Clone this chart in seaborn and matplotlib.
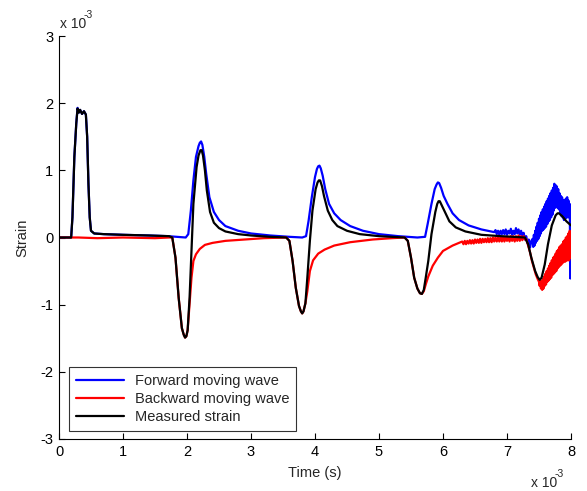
import pandas as pd
import matplotlib.pyplot as plt
import seaborn as sns

sns.set_style("ticks")
plt.rcParams["font.family"] = ["Liberation Sans", "DejaVu Sans"]
plt.rcParams["xtick.direction"] = "in"
plt.rcParams["ytick.direction"] = "in"
plt.rcParams["axes.unicode_minus"] = False

# ---------------------------------------------------------
# Data (time in ms, strain in units of 1e-3)
# ---------------------------------------------------------
fwd_t = [0.0, 0.19, 0.21, 0.24, 0.27, 0.29, 0.31, 0.33, 0.36, 0.39, 0.42, 0.44, 0.46, 0.48, 0.50,
         0.55, 0.7, 1.0, 1.4, 1.7, 1.85, 1.98,
         2.02, 2.06, 2.10, 2.14, 2.18, 2.20, 2.22, 2.24, 2.27, 2.30, 2.35, 2.42, 2.50, 2.60, 2.80, 3.0,
         3.3, 3.6, 3.8,
         3.86, 3.90, 3.95, 4.00, 4.03, 4.05, 4.07, 4.09, 4.12, 4.16, 4.22, 4.30, 4.40, 4.55, 4.75, 5.0,
         5.3, 5.6,
         5.72, 5.76, 5.82, 5.87, 5.90, 5.92, 5.94, 5.97, 6.01, 6.07, 6.15, 6.25, 6.40, 6.60,
         6.80, 6.82, 6.84, 6.86, 6.88, 6.90, 6.92, 6.94, 6.96, 6.98, 7.00, 7.02, 7.04, 7.06, 7.08,
         7.10, 7.12, 7.14, 7.16, 7.18, 7.20, 7.22, 7.24, 7.26, 7.28, 7.30, 7.32, 7.34, 7.36, 7.38,
         7.40, 7.41, 7.42, 7.43, 7.44, 7.45, 7.46, 7.47, 7.48, 7.49, 7.50, 7.51, 7.52, 7.53, 7.54,
         7.55, 7.56, 7.57, 7.58, 7.59, 7.60, 7.61, 7.62, 7.63, 7.64, 7.65, 7.66, 7.67, 7.68, 7.69,
         7.70, 7.71, 7.72, 7.73, 7.74, 7.75, 7.76, 7.77, 7.78, 7.79, 7.80, 7.81, 7.82, 7.83, 7.84,
         7.85, 7.86, 7.87, 7.88, 7.89, 7.90, 7.91, 7.92, 7.93, 7.94, 7.95, 7.96, 7.97, 7.98, 7.99,
         8.0]
fwd_v = [0.0, 0.0, 0.3, 1.2, 1.7, 1.93, 1.86, 1.9, 1.84, 1.88, 1.83, 1.5, 0.8, 0.3, 0.1,
         0.06, 0.05, 0.04, 0.03, 0.02, 0.01, 0.0,
         0.05, 0.4, 0.85, 1.2, 1.36, 1.41, 1.43, 1.38, 1.2, 0.95, 0.6, 0.38, 0.26, 0.17, 0.1, 0.06,
         0.03, 0.01, 0.0,
         0.02, 0.25, 0.6, 0.9, 1.02, 1.06, 1.07, 1.03, 0.92, 0.72, 0.5, 0.36, 0.26, 0.17, 0.1, 0.05,
         0.02, 0.0,
         0.01, 0.2, 0.5, 0.72, 0.79, 0.82, 0.81, 0.74, 0.62, 0.5, 0.36, 0.26, 0.18, 0.12,
         0.08, 0.11, 0.05, 0.1, 0.04, 0.1, 0.05, 0.11, 0.05, 0.12, 0.04, 0.1, 0.06, 0.13, 0.04,
         0.1, 0.05, 0.14, 0.06, 0.12, 0.04, 0.1, 0.02, 0.07, -0.03, 0.02, -0.08, -0.03, -0.15, -0.05,
         -0.02, -0.14, 0.04, -0.12, 0.1, -0.08, 0.16, -0.05, 0.22, -0.02, 0.28, 0.02, 0.33, 0.06, 0.38,
         0.1, 0.42, 0.12, 0.46, 0.14, 0.5, 0.16, 0.54, 0.2, 0.58, 0.24, 0.62, 0.26, 0.66, 0.3,
         0.7, 0.34, 0.74, 0.4, 0.8, 0.44, 0.78, 0.46, 0.76, 0.44, 0.72, 0.42, 0.66, 0.36, 0.62,
         0.32, 0.6, 0.3, 0.56, 0.26, 0.55, 0.28, 0.58, 0.3, 0.6, 0.3, 0.55, 0.3, 0.5, -0.61,
         0.4]

bwd_t = [0.0, 0.3, 0.6, 1.0, 1.5, 1.72,
         1.77, 1.82, 1.87, 1.92, 1.95, 1.97, 1.99, 2.01, 2.04, 2.07, 2.10, 2.14, 2.20, 2.28, 2.40, 2.60,
         2.90, 3.2, 3.55,
         3.60, 3.65, 3.70, 3.75, 3.78, 3.80, 3.82, 3.85, 3.88, 3.92, 3.97, 4.05, 4.15, 4.30, 4.55, 4.90,
         5.2, 5.4,
         5.45, 5.50, 5.55, 5.60, 5.64, 5.67, 5.70, 5.73, 5.77, 5.84, 5.92, 6.00, 6.15,
         6.30, 6.32, 6.34, 6.36, 6.38, 6.40, 6.42, 6.44, 6.46, 6.48, 6.50, 6.52, 6.54, 6.56, 6.58,
         6.60, 6.62, 6.64, 6.66, 6.68, 6.70, 6.72, 6.74, 6.76, 6.78, 6.80, 6.82, 6.84, 6.86, 6.88,
         6.90, 6.92, 6.94, 6.96, 6.98, 7.00, 7.02, 7.04, 7.06, 7.08, 7.10, 7.12, 7.14, 7.16, 7.18,
         7.20, 7.22, 7.24, 7.26, 7.28,
         7.30, 7.33, 7.36, 7.39, 7.42, 7.45, 7.48,
         7.50, 7.51, 7.52, 7.53, 7.54, 7.55, 7.56, 7.57, 7.58, 7.59, 7.60, 7.61, 7.62, 7.63, 7.64,
         7.65, 7.66, 7.67, 7.68, 7.69, 7.70, 7.71, 7.72, 7.73, 7.74, 7.75, 7.76, 7.77, 7.78, 7.79,
         7.80, 7.81, 7.82, 7.83, 7.84, 7.85, 7.86, 7.87, 7.88, 7.89, 7.90, 7.91, 7.92, 7.93, 7.94,
         7.95, 7.96, 7.97, 7.98, 7.99, 8.0]
bwd_v = [0.0, 0.0, -0.01, 0.0, -0.01, 0.0,
         0.0, -0.3, -0.9, -1.35, -1.45, -1.49, -1.47, -1.38, -1.0, -0.6, -0.35, -0.25, -0.17, -0.11,
         -0.08, -0.05, -0.03, -0.01, 0.0,
         -0.05, -0.35, -0.75, -1.02, -1.1, -1.13, -1.1, -0.98, -0.8, -0.5, -0.34, -0.24, -0.18, -0.12,
         -0.07, -0.03, -0.01, 0.0,
         -0.05, -0.3, -0.6, -0.76, -0.83, -0.84, -0.8, -0.7, -0.58, -0.42, -0.3, -0.2, -0.12,
         -0.06, -0.10, -0.05, -0.10, -0.05, -0.09, -0.04, -0.09, -0.04, -0.09, -0.03, -0.08, -0.03,
         -0.08, -0.02, -0.08, -0.02, -0.07, -0.02, -0.07, -0.01, -0.07, -0.01, -0.07, 0.0, -0.06,
         0.0, -0.06, 0.0, -0.06, 0.01, -0.06, 0.01, -0.06, 0.01, -0.05, 0.01, -0.06, 0.02, -0.05,
         0.02, -0.06, 0.02, -0.05, 0.03, -0.05, 0.02, -0.04, 0.02, -0.03,
         -0.02, -0.12, -0.22, -0.35, -0.45, -0.55, -0.62,
         -0.66, -0.72, -0.64, -0.76, -0.66, -0.78, -0.62, -0.76, -0.58, -0.72, -0.54, -0.7, -0.5,
         -0.66, -0.46, -0.64, -0.42, -0.62, -0.38, -0.6, -0.34, -0.56, -0.3, -0.54, -0.28, -0.52,
         -0.24, -0.5, -0.2, -0.46, -0.18, -0.44, -0.14, -0.42, -0.12, -0.4, -0.1, -0.38, -0.06,
         -0.36, -0.04, -0.36, 0.0, -0.34, 0.02, -0.34, 0.06, -0.34, 0.1, -0.3, 0.08]

meas_t = [0.0, 0.19, 0.21, 0.24, 0.27, 0.29, 0.31, 0.33, 0.36, 0.39, 0.42, 0.44, 0.46, 0.48, 0.50,
          0.55, 0.7, 1.0, 1.4, 1.72,
          1.77, 1.82, 1.87, 1.92, 1.95, 1.97, 1.99, 2.01, 2.04, 2.07, 2.10, 2.15, 2.18, 2.21, 2.23,
          2.25, 2.28, 2.31, 2.36, 2.42, 2.50, 2.60, 2.80, 3.0, 3.3, 3.55,
          3.60, 3.65, 3.70, 3.75, 3.78, 3.80, 3.82, 3.85, 3.88, 3.92, 3.96, 4.01, 4.04, 4.06, 4.08,
          4.11, 4.14, 4.20, 4.27, 4.35, 4.50, 4.70, 5.0, 5.4,
          5.45, 5.50, 5.55, 5.60, 5.64, 5.67, 5.70, 5.73, 5.77, 5.82, 5.88, 5.91, 5.93, 5.95, 5.98,
          6.03, 6.10, 6.20, 6.35, 6.60, 6.90, 7.10, 7.28,
          7.33, 7.38, 7.44, 7.48, 7.51, 7.54, 7.59, 7.64, 7.70, 7.76, 7.79, 7.81, 7.86, 7.93, 8.0]
meas_v = [0.0, 0.0, 0.3, 1.2, 1.7, 1.92, 1.86, 1.9, 1.84, 1.88, 1.83, 1.5, 0.8, 0.3, 0.1,
          0.06, 0.05, 0.04, 0.03, 0.02,
          0.0, -0.3, -0.9, -1.35, -1.45, -1.49, -1.47, -1.38, -0.9, -0.2, 0.5, 1.05, 1.22, 1.30, 1.30,
          1.22, 1.0, 0.7, 0.38, 0.22, 0.14, 0.09, 0.05, 0.03, 0.01, 0.0,
          -0.05, -0.35, -0.75, -1.02, -1.1, -1.13, -1.1, -0.98, -0.6, -0.05, 0.4, 0.72, 0.82, 0.85, 0.85,
          0.76, 0.62, 0.4, 0.26, 0.17, 0.10, 0.05, 0.02, 0.0,
          -0.05, -0.3, -0.6, -0.76, -0.83, -0.84, -0.78, -0.6, -0.35, 0.05, 0.38, 0.5, 0.54, 0.54, 0.48,
          0.38, 0.24, 0.15, 0.09, 0.04, 0.02, 0.01, 0.0,
          -0.1, -0.3, -0.5, -0.59, -0.63, -0.60, -0.4, -0.1, 0.18, 0.33, 0.36, 0.36, 0.32, 0.24, 0.18]

labels = ["Forward moving wave", "Backward moving wave", "Measured strain"]
colors = ["#0000ff", "#ff0000", "#000000"]

df = pd.concat([
    pd.DataFrame({"t": fwd_t, "strain": fwd_v, "series": labels[0]}),
    pd.DataFrame({"t": bwd_t, "strain": bwd_v, "series": labels[1]}),
    pd.DataFrame({"t": meas_t, "strain": meas_v, "series": labels[2]}),
], ignore_index=True)

# ---------------------------------------------------------
# Plot
# ---------------------------------------------------------
fig = plt.figure(figsize=(5.87, 4.91), dpi=100)
ax = fig.add_axes([59 / 587, 1 - 439 / 491, 512 / 587, 403 / 491])

sns.lineplot(data=df, x="t", y="strain", hue="series", hue_order=labels,
             palette=colors, sort=False, estimator=None, linewidth=1.6, ax=ax)

ax.set_xlim(0, 8)
ax.set_ylim(-3, 3)
ax.set_xticks(range(0, 9))
ax.set_yticks(range(-3, 4))
ax.tick_params(labelsize=10.5, length=4, width=0.8, colors="black", pad=4)
ax.set_xlabel("Time (s)", fontsize=10.5, labelpad=5)
ax.set_ylabel("Strain", fontsize=10.5, labelpad=8)
sns.despine(ax=ax)
for s in ["left", "bottom"]:
    ax.spines[s].set_linewidth(0.8)
    ax.spines[s].set_color("black")

# MATLAB style exponent labels
fig.text(60 / 587, 1 - 28 / 491, "x 10", fontsize=10)
fig.text(84 / 587, 1 - 18 / 491, "-3", fontsize=7.5)
fig.text(531 / 587, 1 - 487 / 491, "x 10", fontsize=10)
fig.text(555 / 587, 1 - 477 / 491, "-3", fontsize=7.5)

leg = ax.legend(loc="lower left", bbox_to_anchor=(0.0195, 0.02), borderaxespad=0,
                fancybox=False, edgecolor="black", fontsize=10.5,
                handlelength=3.3, labelspacing=0.3, borderpad=0.45)
leg.get_frame().set_linewidth(0.8)

plt.savefig("out.png", dpi=100)
plt.close()
